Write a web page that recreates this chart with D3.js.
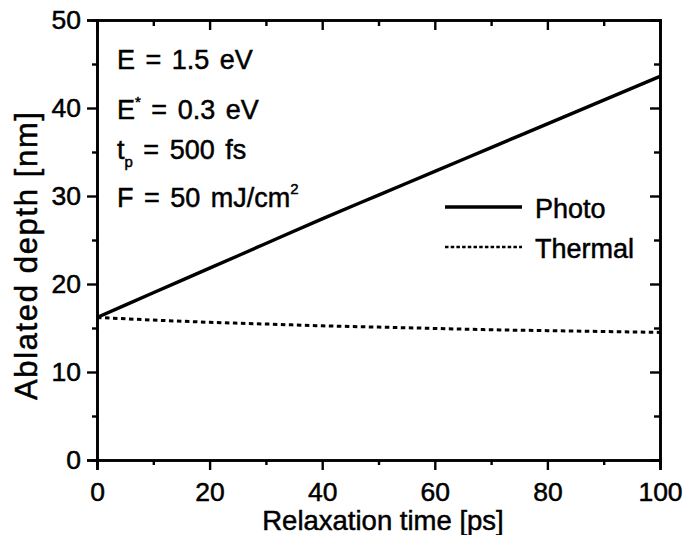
<!DOCTYPE html>
<html lang="en">
<head>
    <meta charset="UTF-8">
    <title>Ablated depth vs relaxation time</title>
    <script type="text/javascript" src="https://cdn.jsdelivr.net/npm/d3@7/dist/d3.min.js"></script>
    <style>
        body{margin:0;background:#fff;}
        text{font-family:"Liberation Sans",Arial,Helvetica,sans-serif;fill:#000;stroke:#000;stroke-width:0.5px;}
    </style>
</head>
<body>
    <svg></svg>
    <script>
        //data
        var relaxTime = [0,10,20,30,40,50,60,70,80,90,100];
        var photoDepth = [16.2,19.0,21.8,24.6,27.4,30.1,32.8,35.5,38.2,40.9,43.6];
        var thermalDepth = [16.2,15.9,15.65,15.45,15.25,15.1,14.95,14.8,14.7,14.6,14.5];
        var xTicks = [0,20,40,60,80,100];
        var yTicks = [0,10,20,30,40,50];
        var xMinor = [10,30,50,70,90];
        var yMinor = [5,15,25,35,45];
        var seriesNames = ["Photo","Thermal"];

        var width = 685, height = 535;
        var margin = {top:20,right:25,bottom:75,left:97};

        var svg = d3.select("svg")
            .attr("width",width)
            .attr("height",height);

        var x = d3.scaleLinear().domain([0,100]).range([margin.left,width-margin.right]);
        var y = d3.scaleLinear().domain([0,50]).range([height-margin.bottom,margin.top]);

        //bottom axis (ticks outward)
        svg.append("g")
            .attr("transform","translate(0,"+y(0)+")")
            .call(d3.axisBottom(x).tickValues(xMinor).tickSize(5).tickFormat(""));
        svg.append("g")
            .attr("transform","translate(0,"+y(0)+")")
            .call(d3.axisBottom(x).tickValues(xTicks).tickSize(10).tickPadding(12));
        //left axis
        svg.append("g")
            .attr("transform","translate("+x(0)+",0)")
            .call(d3.axisLeft(y).tickValues(yMinor).tickSize(5).tickFormat(""));
        svg.append("g")
            .attr("transform","translate("+x(0)+",0)")
            .call(d3.axisLeft(y).tickValues(yTicks).tickSize(10).tickPadding(6));
        //top axis (ticks inward)
        svg.append("g")
            .attr("transform","translate(0,"+y(50)+")")
            .call(d3.axisTop(x).tickValues(xMinor).tickSize(-6).tickFormat(""));
        svg.append("g")
            .attr("transform","translate(0,"+y(50)+")")
            .call(d3.axisTop(x).tickValues(xTicks).tickSize(-10).tickFormat(""));
        //right axis (ticks inward)
        svg.append("g")
            .attr("transform","translate("+x(100)+",0)")
            .call(d3.axisRight(y).tickValues(yMinor).tickSize(-6).tickFormat(""));
        svg.append("g")
            .attr("transform","translate("+x(100)+",0)")
            .call(d3.axisRight(y).tickValues(yTicks).tickSize(-10).tickFormat(""));

        svg.selectAll(".domain").attr("stroke","#000").attr("stroke-width",2.6);
        svg.selectAll(".tick line").attr("stroke","#000").attr("stroke-width",2.4);
        svg.selectAll(".tick text")
            .style("font-family","'Liberation Sans',Arial,sans-serif")
            .attr("font-size",26.5)
            .attr("fill","#000");

        //curves
        var depthLine = d3.line()
            .x(function(d,i){return x(relaxTime[i]);})
            .y(function(d){return y(d);})
            .curve(d3.curveMonotoneX);

        svg.append("path")
            .datum(thermalDepth)
            .attr("d",depthLine)
            .attr("fill","none")
            .attr("stroke","#000")
            .attr("stroke-width",3)
            .attr("stroke-dasharray","4.5,3.5");

        svg.append("path")
            .datum(photoDepth)
            .attr("d",depthLine)
            .attr("fill","none")
            .attr("stroke","#000")
            .attr("stroke-width",3.4);

        //axis titles
        svg.append("text")
            .attr("x",383)
            .attr("y",530)
            .attr("text-anchor","middle")
            .attr("font-size",27.5)
            .text("Relaxation time [ps]");
        svg.append("text")
            .attr("transform","translate(37,256) rotate(-90)")
            .attr("text-anchor","middle")
            .attr("font-size",31)
            .attr("textLength",288)
            .text("Ablated depth [nm]");

        //parameter notes
        var notes = svg.append("g").attr("font-size",27).attr("word-spacing",3);
        notes.append("text").attr("x",117).attr("y",69)
            .text("E = 1.5 eV");
        var n2 = notes.append("text").attr("x",117).attr("y",119);
        n2.append("tspan").text("E");
        n2.append("tspan").attr("dy",-12).attr("font-size",15).text("*");
        n2.append("tspan").attr("dy",12).text(" = 0.3 eV");
        var n3 = notes.append("text").attr("x",117).attr("y",159);
        n3.append("tspan").text("t");
        n3.append("tspan").attr("dy",8).attr("font-size",15).text("p");
        n3.append("tspan").attr("dy",-8).text(" = 500 fs");
        var n4 = notes.append("text").attr("x",117).attr("y",207);
        n4.append("tspan").text("F = 50 mJ/cm");
        n4.append("tspan").attr("dy",-13).attr("font-size",15).text("2");

        //legend
        var legend = svg.append("g");
        seriesNames.forEach(function(name,i){
            var ly = 207 + i*40;
            legend.append("line")
                .attr("x1",445).attr("x2",522)
                .attr("y1",ly).attr("y2",ly)
                .attr("stroke","#000")
                .attr("stroke-width",i===0?3.4:2.4)
                .attr("stroke-dasharray",i===0?null:"3.5,2.2");
            legend.append("text")
                .attr("x",535).attr("y",ly+11)
                .attr("font-size",27)
                .text(name);
        });
    </script>
</body>
</html>
